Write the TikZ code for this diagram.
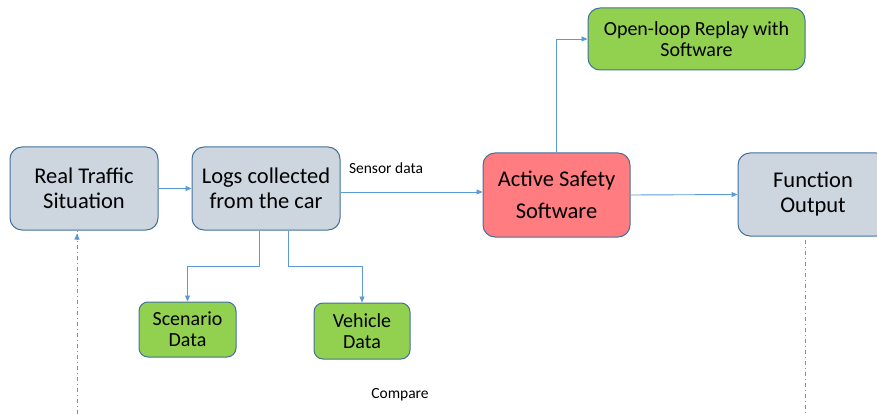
\documentclass[tikz,border=0pt]{standalone}
\usepackage{fontspec}
\setmainfont{Carlito}
\usetikzlibrary{arrows.meta}
\definecolor{boxgray}{HTML}{CDD5DF}
\definecolor{boxred}{HTML}{FF7C80}
\definecolor{boxgreen}{HTML}{92D050}
\definecolor{edge}{HTML}{41719C}
\definecolor{linkblue}{HTML}{5B9BD5}
\begin{document}
\begin{tikzpicture}[x=1pt,y=-1pt,
  box/.style={draw=edge, line width=1pt, rounded corners=12pt, align=center, inner sep=0pt},
  bigtext/.style={font=\fontsize{22.5}{25}\selectfont},
  smalltext/.style={font=\fontsize{20}{21}\selectfont},
  link/.style={draw=linkblue, line width=0.9pt, -{Triangle[length=6pt,width=5pt]}},
  cmpline/.style={draw=linkblue, line width=0.8pt, dash pattern=on 4pt off 3pt on 1pt off 3pt},
  lbl/.style={font=\fontsize{15.5}{18}\selectfont}]
\useasboundingbox (0,0) rectangle (877,414);
\clip (0,0) rectangle (877,414);

% process boxes
\node[box, bigtext, fill=boxgray, minimum width=148pt, minimum height=83pt] (real) at (84,188.5) {Real Traffic\\Situation};
\node[box, bigtext, fill=boxgray, minimum width=148pt, minimum height=83pt] (logs) at (266,188.5) {Logs collected\\from the car};
\node[box, font=\fontsize{22.5}{32}\selectfont, fill=boxred, minimum width=147pt, minimum height=84pt] (active) at (556.5,195) {Active Safety\\Software};
\node[box, bigtext, fill=boxgray, minimum width=150pt, minimum height=83pt] (func) at (813,194.5) {Function\\Output};
\node[box, smalltext, fill=boxgreen, minimum width=217pt, minimum height=62pt] (open) at (696.5,39) {Open-loop Replay with\\Software};
\node[box, smalltext, fill=boxgreen, minimum width=97pt, minimum height=55pt, rounded corners=9pt] (scen) at (187.5,329.5) {Scenario\\Data};
\node[box, smalltext, fill=boxgreen, minimum width=96pt, minimum height=56pt, rounded corners=9pt] (veh) at (362,331) {Vehicle\\Data};

% labels
\node[lbl] (sensor) at (386,168) {Sensor data};
\node[lbl] (compare) at (400,395) {Compare};

% connectors
\draw[link] (real.east) -- (logs.west);
\draw[link] ([yshift=-3.5pt]logs.east) coordinate (s) -- (s -| active.west);
\draw[link] (active.east) -- (func.west);
\draw[link] (active.north) |- (open.west);
\draw[link] ([xshift=-7pt]logs.south) -- ++(0,36) -| (scen.north);
\draw[link] ([xshift=22pt]logs.south) -- ++(0,36) -| (veh.north);

% comparison lines
\coordinate (lb) at (77,414);
\coordinate (rb) at (805,414);
\draw[cmpline] (lb) -- (lb |- real.south);
\draw[draw=linkblue, -{Triangle[length=6pt,width=5pt]}, line width=0.8pt] ([yshift=-8pt]lb |- real.south) -- ([yshift=-3pt]lb |- real.south);
\draw[cmpline] ([yshift=-3pt]rb |- func.south) -- (rb);
\end{tikzpicture}
\end{document}
